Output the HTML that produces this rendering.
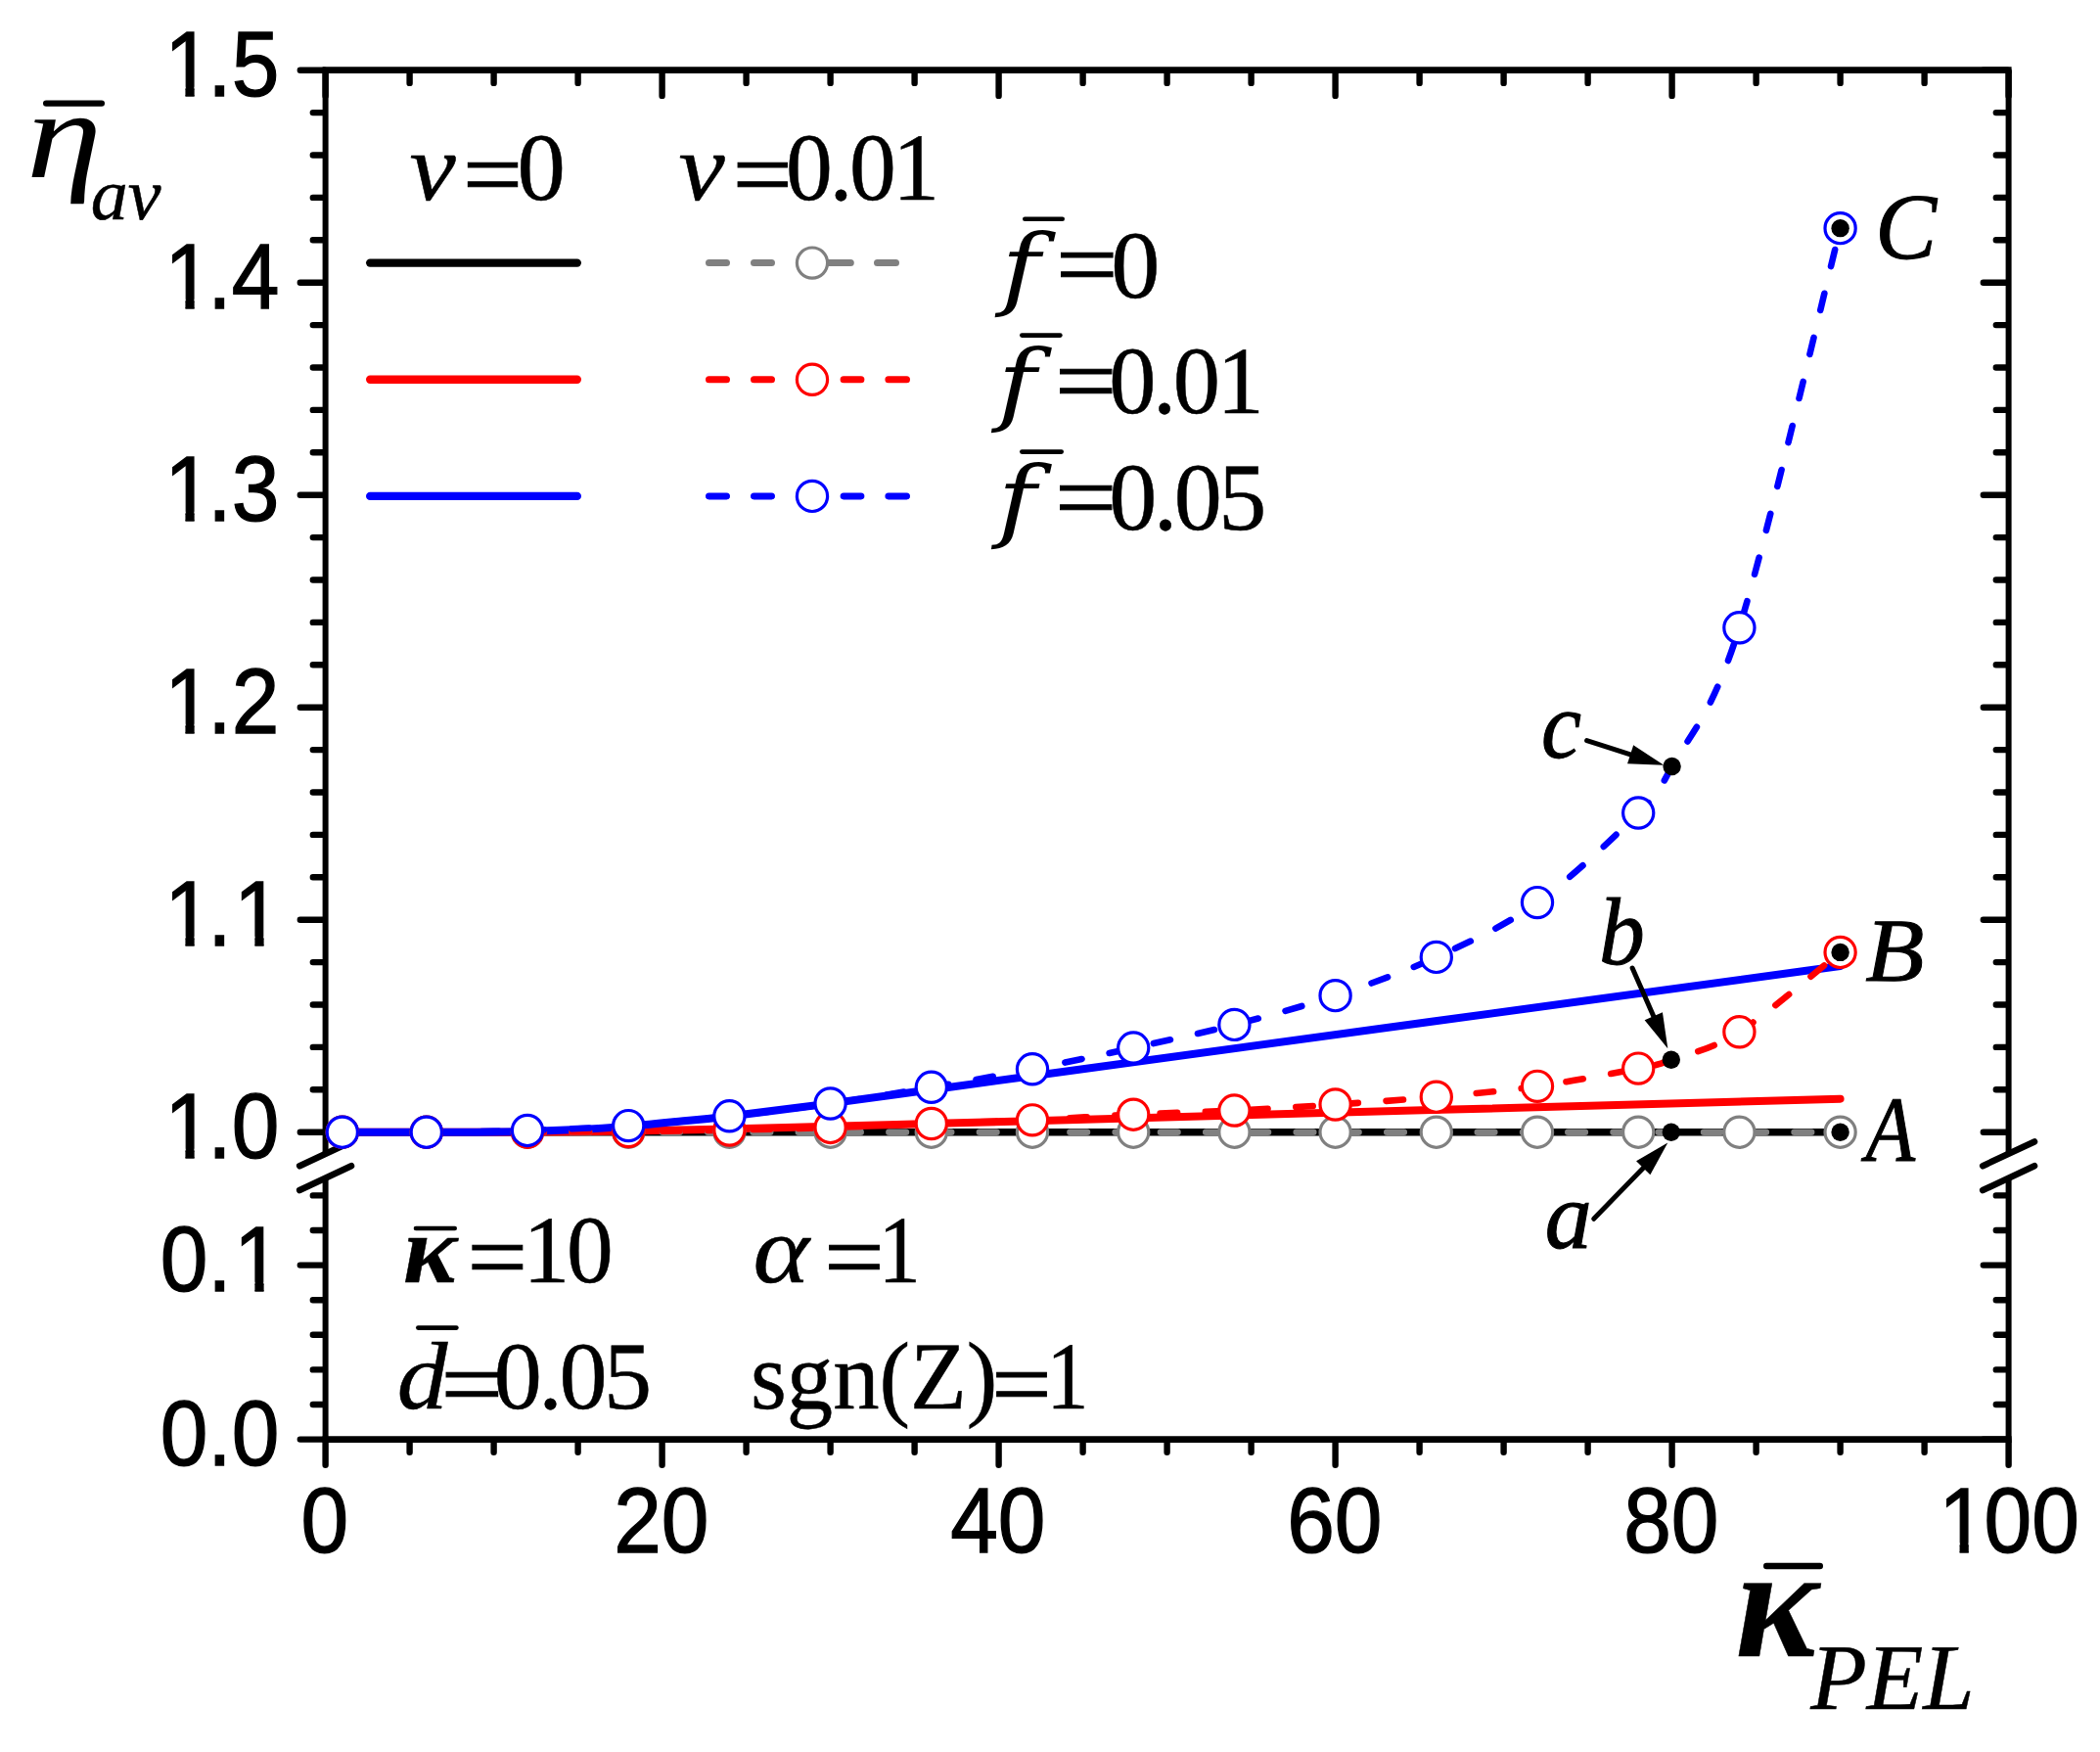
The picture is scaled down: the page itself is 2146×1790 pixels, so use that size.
<!DOCTYPE html>
<html lang="en"><head><meta charset="utf-8"><title>eta_av vs K_PEL</title>
<style>html,body{margin:0;padding:0;background:#fff}body{width:2146px;height:1790px;overflow:hidden}svg{display:block}</style>
</head><body>
<svg width="2146" height="1790" viewBox="0 0 2146 1790" text-rendering="geometricPrecision">
<rect width="2146" height="1790" fill="#fff"/>
<defs><clipPath id="cy1_5" clipPathUnits="userSpaceOnUse"><path clip-rule="evenodd" d="M-30 -100H162V30H-30Z M2.86 -9.27H27.86V4H2.86Z M37.81 -9.27H55.00V4H37.81Z"/></clipPath><clipPath id="cy1_4" clipPathUnits="userSpaceOnUse"><path clip-rule="evenodd" d="M-30 -100H162V30H-30Z M2.86 -9.27H27.86V4H2.86Z M37.81 -9.27H55.00V4H37.81Z"/></clipPath><clipPath id="cy1_3" clipPathUnits="userSpaceOnUse"><path clip-rule="evenodd" d="M-30 -100H162V30H-30Z M2.86 -9.27H27.86V4H2.86Z M37.81 -9.27H55.00V4H37.81Z"/></clipPath><clipPath id="cy1_2" clipPathUnits="userSpaceOnUse"><path clip-rule="evenodd" d="M-30 -100H162V30H-30Z M2.86 -9.27H27.86V4H2.86Z M37.81 -9.27H55.00V4H37.81Z"/></clipPath><clipPath id="cy1_1" clipPathUnits="userSpaceOnUse"><path clip-rule="evenodd" d="M-30 -100H162V30H-30Z M2.86 -9.27H27.86V4H2.86Z M37.81 -9.27H55.00V4H37.81Z M79.60 -9.27H104.59V4H79.60Z M114.54 -9.27H131.74V4H114.54Z"/></clipPath><clipPath id="cy1_0" clipPathUnits="userSpaceOnUse"><path clip-rule="evenodd" d="M-30 -100H162V30H-30Z M2.86 -9.27H27.86V4H2.86Z M37.81 -9.27H55.00V4H37.81Z"/></clipPath><clipPath id="cy0_1" clipPathUnits="userSpaceOnUse"><path clip-rule="evenodd" d="M-30 -100H162V30H-30Z M79.60 -9.27H104.59V4H79.60Z M114.54 -9.27H131.74V4H114.54Z"/></clipPath><clipPath id="cx100" clipPathUnits="userSpaceOnUse"><path clip-rule="evenodd" d="M-30 -100H188V30H-30Z M0.70 -9.27H25.69V4H0.70Z M35.65 -9.27H52.84V4H35.65Z"/></clipPath></defs>
<g stroke="#000" fill="none" stroke-linecap="round">
<g stroke-width="6.0" stroke-linecap="butt">
<path d="M332.60 71.70 V1178.80 M332.60 1203.60 V1470.60"/>
<path d="M2052.60 71.70 V1178.80 M2052.60 1203.60 V1470.60"/>
</g>
<g stroke-width="6.8" stroke-linecap="butt">
<path d="M329.60 71.70 H2055.60 M329.60 1470.60 H2055.60"/>
</g>
<g stroke-width="6.6">
<path d="M306.20 1191.20 L359.00 1166.40"/>
<path d="M306.20 1216.00 L359.00 1191.20"/>
<path d="M2026.20 1191.20 L2079.00 1166.40"/>
<path d="M2026.20 1216.00 L2079.00 1191.20"/>
</g>
<g stroke-width="6.4">
<path d="M332.60 1471.60 V1496.80 M332.60 72.70 V97.90 M418.60 1471.60 V1483.80 M418.60 72.70 V84.90 M504.60 1471.60 V1483.80 M504.60 72.70 V84.90 M590.60 1471.60 V1483.80 M590.60 72.70 V84.90 M676.60 1471.60 V1496.80 M676.60 72.70 V97.90 M762.60 1471.60 V1483.80 M762.60 72.70 V84.90 M848.60 1471.60 V1483.80 M848.60 72.70 V84.90 M934.60 1471.60 V1483.80 M934.60 72.70 V84.90 M1020.60 1471.60 V1496.80 M1020.60 72.70 V97.90 M1106.60 1471.60 V1483.80 M1106.60 72.70 V84.90 M1192.60 1471.60 V1483.80 M1192.60 72.70 V84.90 M1278.60 1471.60 V1483.80 M1278.60 72.70 V84.90 M1364.60 1471.60 V1496.80 M1364.60 72.70 V97.90 M1450.60 1471.60 V1483.80 M1450.60 72.70 V84.90 M1536.60 1471.60 V1483.80 M1536.60 72.70 V84.90 M1622.60 1471.60 V1483.80 M1622.60 72.70 V84.90 M1708.60 1471.60 V1496.80 M1708.60 72.70 V97.90 M1794.60 1471.60 V1483.80 M1794.60 72.70 V84.90 M1880.60 1471.60 V1483.80 M1880.60 72.70 V84.90 M1966.60 1471.60 V1483.80 M1966.60 72.70 V84.90 M2052.60 1471.60 V1496.80 M2052.60 72.70 V97.90 M331.60 1156.70 H306.80 M2051.60 1156.70 H2026.80 M331.60 1113.30 H319.80 M2051.60 1113.30 H2039.80 M331.60 1069.90 H319.80 M2051.60 1069.90 H2039.80 M331.60 1026.50 H319.80 M2051.60 1026.50 H2039.80 M331.60 983.10 H319.80 M2051.60 983.10 H2039.80 M331.60 939.70 H306.80 M2051.60 939.70 H2026.80 M331.60 896.30 H319.80 M2051.60 896.30 H2039.80 M331.60 852.90 H319.80 M2051.60 852.90 H2039.80 M331.60 809.50 H319.80 M2051.60 809.50 H2039.80 M331.60 766.10 H319.80 M2051.60 766.10 H2039.80 M331.60 722.70 H306.80 M2051.60 722.70 H2026.80 M331.60 679.30 H319.80 M2051.60 679.30 H2039.80 M331.60 635.90 H319.80 M2051.60 635.90 H2039.80 M331.60 592.50 H319.80 M2051.60 592.50 H2039.80 M331.60 549.10 H319.80 M2051.60 549.10 H2039.80 M331.60 505.70 H306.80 M2051.60 505.70 H2026.80 M331.60 462.30 H319.80 M2051.60 462.30 H2039.80 M331.60 418.90 H319.80 M2051.60 418.90 H2039.80 M331.60 375.50 H319.80 M2051.60 375.50 H2039.80 M331.60 332.10 H319.80 M2051.60 332.10 H2039.80 M331.60 288.70 H306.80 M2051.60 288.70 H2026.80 M331.60 245.30 H319.80 M2051.60 245.30 H2039.80 M331.60 201.90 H319.80 M2051.60 201.90 H2039.80 M331.60 158.50 H319.80 M2051.60 158.50 H2039.80 M331.60 115.10 H319.80 M2051.60 115.10 H2039.80 M331.60 71.70 H306.80 M2051.60 71.70 H2026.80 M331.60 1470.60 H306.80 M2051.60 1470.60 H2026.80 M331.60 1435.00 H319.80 M2051.60 1435.00 H2039.80 M331.60 1399.40 H319.80 M2051.60 1399.40 H2039.80 M331.60 1363.80 H319.80 M2051.60 1363.80 H2039.80 M331.60 1328.20 H319.80 M2051.60 1328.20 H2039.80 M331.60 1292.60 H306.80 M2051.60 1292.60 H2026.80 M331.60 1257.00 H319.80 M2051.60 1257.00 H2039.80 M331.60 1221.40 H319.80 M2051.60 1221.40 H2039.80"/>
</g>
</g>
<g fill="none" stroke-linecap="round" stroke-linejoin="round">
<path d="M349.80 1156.70 L1880.60 1156.70" stroke="#000" stroke-width="7.4"/>
<path d="M349.80 1156.70 C372.73 1156.70 455.87 1156.72 487.40 1156.70 C518.93 1156.68 521.80 1156.66 539.00 1156.57 C556.20 1156.48 573.40 1156.36 590.60 1156.18 C607.80 1156.00 625.00 1155.76 642.20 1155.48 C659.40 1155.21 676.60 1154.87 693.80 1154.53 C711.00 1154.19 719.60 1154.06 745.40 1153.44 C771.20 1152.83 814.20 1151.75 848.60 1150.84 C883.00 1149.94 917.40 1148.96 951.80 1148.02 C986.20 1147.08 900.20 1149.41 1055.00 1145.20 C1209.80 1140.99 1743.00 1126.50 1880.60 1122.76" stroke="#f00" stroke-width="8.0"/>
<path d="M349.80 1156.70 C372.73 1156.70 455.87 1156.81 487.40 1156.70 C518.93 1156.59 521.80 1156.48 539.00 1156.05 C556.20 1155.62 573.40 1155.00 590.60 1154.10 C607.80 1153.19 625.00 1152.00 642.20 1150.62 C659.40 1149.25 676.60 1147.55 693.80 1145.85 C711.00 1144.15 719.60 1143.50 745.40 1140.42 C771.20 1137.35 814.20 1131.93 848.60 1127.40 C883.00 1122.88 917.40 1118.00 951.80 1113.30 C986.20 1108.60 900.20 1120.24 1055.00 1099.20 C1209.80 1078.15 1743.00 1005.70 1880.60 987.01" stroke="#00f" stroke-width="8.0"/>
<path d="M539.00 1156.70 L1880.60 1156.70" stroke="#808080" stroke-width="6.6" stroke-dasharray="17.5 28.76" stroke-dashoffset="0.66"/>
<path d="M539.00 1156.70 C556.20 1156.59 607.80 1156.41 642.20 1156.05 C676.60 1155.69 711.00 1155.22 745.40 1154.53 C779.80 1153.84 814.20 1153.01 848.60 1151.93 C883.00 1150.84 917.40 1149.29 951.80 1148.02 C986.20 1146.75 1020.60 1145.89 1055.00 1144.33 C1089.40 1142.78 1123.80 1140.32 1158.20 1138.69 C1192.60 1137.06 1227.00 1136.27 1261.40 1134.57 C1295.80 1132.87 1330.20 1130.80 1364.60 1128.49 C1399.00 1126.18 1433.40 1123.79 1467.80 1120.68 C1502.20 1117.57 1536.60 1114.67 1571.00 1109.83 C1605.40 1104.98 1651.27 1096.12 1674.20 1091.60 C1697.13 1087.08 1691.40 1088.92 1708.60 1082.70 C1725.80 1076.48 1748.73 1072.58 1777.40 1054.28 C1806.07 1035.98 1863.40 986.46 1880.60 972.90" stroke="#f00" stroke-width="6.6" stroke-dasharray="17.5 28.76" stroke-dashoffset="0.66"/>
<path d="M349.80 1156.70 C364.13 1156.70 404.27 1156.99 435.80 1156.70 C467.33 1156.41 504.60 1156.06 539.00 1154.96 C573.40 1153.86 607.80 1152.55 642.20 1150.10 C676.60 1147.66 711.00 1144.06 745.40 1140.29 C779.80 1136.53 814.20 1132.41 848.60 1127.49 C883.00 1122.58 917.40 1116.67 951.80 1110.80 C986.20 1104.94 1020.60 1099.00 1055.00 1092.29 C1089.40 1085.59 1123.80 1078.12 1158.20 1070.55 C1192.60 1062.98 1227.00 1055.80 1261.40 1046.90 C1295.80 1038.00 1330.20 1028.67 1364.60 1017.17 C1399.00 1005.67 1433.40 993.73 1467.80 977.89 C1502.20 962.05 1536.60 946.68 1571.00 922.12 C1605.40 897.57 1651.27 853.73 1674.20 830.55 C1697.13 807.37 1691.40 814.56 1708.60 783.03 C1725.80 751.49 1748.73 732.97 1777.40 641.32 C1806.07 549.68 1863.40 301.18 1880.60 233.15" stroke="#00f" stroke-width="6.6" stroke-dasharray="17.5 28.76" stroke-dashoffset="-3.5"/>
</g>
<circle cx="349.80" cy="1156.70" r="15.6" fill="#fff" stroke="#808080" stroke-width="3.2"/>
<circle cx="435.80" cy="1156.70" r="15.6" fill="#fff" stroke="#808080" stroke-width="3.2"/>
<circle cx="539.00" cy="1156.70" r="15.6" fill="#fff" stroke="#808080" stroke-width="3.2"/>
<circle cx="642.20" cy="1156.70" r="15.6" fill="#fff" stroke="#808080" stroke-width="3.2"/>
<circle cx="745.40" cy="1156.70" r="15.6" fill="#fff" stroke="#808080" stroke-width="3.2"/>
<circle cx="848.60" cy="1156.70" r="15.6" fill="#fff" stroke="#808080" stroke-width="3.2"/>
<circle cx="951.80" cy="1156.70" r="15.6" fill="#fff" stroke="#808080" stroke-width="3.2"/>
<circle cx="1055.00" cy="1156.70" r="15.6" fill="#fff" stroke="#808080" stroke-width="3.2"/>
<circle cx="1158.20" cy="1156.70" r="15.6" fill="#fff" stroke="#808080" stroke-width="3.2"/>
<circle cx="1261.40" cy="1156.70" r="15.6" fill="#fff" stroke="#808080" stroke-width="3.2"/>
<circle cx="1364.60" cy="1156.70" r="15.6" fill="#fff" stroke="#808080" stroke-width="3.2"/>
<circle cx="1467.80" cy="1156.70" r="15.6" fill="#fff" stroke="#808080" stroke-width="3.2"/>
<circle cx="1571.00" cy="1156.70" r="15.6" fill="#fff" stroke="#808080" stroke-width="3.2"/>
<circle cx="1674.20" cy="1156.70" r="15.6" fill="#fff" stroke="#808080" stroke-width="3.2"/>
<circle cx="1777.40" cy="1156.70" r="15.6" fill="#fff" stroke="#808080" stroke-width="3.2"/>
<circle cx="1880.60" cy="1156.70" r="15.6" fill="#fff" stroke="#808080" stroke-width="3.2"/>
<circle cx="349.80" cy="1156.70" r="15.6" fill="#fff" stroke="#f00" stroke-width="3.2"/>
<circle cx="435.80" cy="1156.70" r="15.6" fill="#fff" stroke="#f00" stroke-width="3.2"/>
<circle cx="539.00" cy="1156.70" r="15.6" fill="#fff" stroke="#f00" stroke-width="3.2"/>
<circle cx="642.20" cy="1156.05" r="15.6" fill="#fff" stroke="#f00" stroke-width="3.2"/>
<circle cx="745.40" cy="1154.53" r="15.6" fill="#fff" stroke="#f00" stroke-width="3.2"/>
<circle cx="848.60" cy="1151.93" r="15.6" fill="#fff" stroke="#f00" stroke-width="3.2"/>
<circle cx="951.80" cy="1148.02" r="15.6" fill="#fff" stroke="#f00" stroke-width="3.2"/>
<circle cx="1055.00" cy="1144.33" r="15.6" fill="#fff" stroke="#f00" stroke-width="3.2"/>
<circle cx="1158.20" cy="1138.69" r="15.6" fill="#fff" stroke="#f00" stroke-width="3.2"/>
<circle cx="1261.40" cy="1134.57" r="15.6" fill="#fff" stroke="#f00" stroke-width="3.2"/>
<circle cx="1364.60" cy="1128.49" r="15.6" fill="#fff" stroke="#f00" stroke-width="3.2"/>
<circle cx="1467.80" cy="1120.68" r="15.6" fill="#fff" stroke="#f00" stroke-width="3.2"/>
<circle cx="1571.00" cy="1109.83" r="15.6" fill="#fff" stroke="#f00" stroke-width="3.2"/>
<circle cx="1674.20" cy="1091.60" r="15.6" fill="#fff" stroke="#f00" stroke-width="3.2"/>
<circle cx="1777.40" cy="1054.28" r="15.6" fill="#fff" stroke="#f00" stroke-width="3.2"/>
<circle cx="1880.60" cy="972.90" r="15.6" fill="#fff" stroke="#f00" stroke-width="3.2"/>
<circle cx="349.80" cy="1156.70" r="15.6" fill="#fff" stroke="#00f" stroke-width="3.2"/>
<circle cx="435.80" cy="1156.70" r="15.6" fill="#fff" stroke="#00f" stroke-width="3.2"/>
<circle cx="539.00" cy="1154.96" r="15.6" fill="#fff" stroke="#00f" stroke-width="3.2"/>
<circle cx="642.20" cy="1150.10" r="15.6" fill="#fff" stroke="#00f" stroke-width="3.2"/>
<circle cx="745.40" cy="1140.29" r="15.6" fill="#fff" stroke="#00f" stroke-width="3.2"/>
<circle cx="848.60" cy="1127.49" r="15.6" fill="#fff" stroke="#00f" stroke-width="3.2"/>
<circle cx="951.80" cy="1110.80" r="15.6" fill="#fff" stroke="#00f" stroke-width="3.2"/>
<circle cx="1055.00" cy="1092.29" r="15.6" fill="#fff" stroke="#00f" stroke-width="3.2"/>
<circle cx="1158.20" cy="1070.55" r="15.6" fill="#fff" stroke="#00f" stroke-width="3.2"/>
<circle cx="1261.40" cy="1046.90" r="15.6" fill="#fff" stroke="#00f" stroke-width="3.2"/>
<circle cx="1364.60" cy="1017.17" r="15.6" fill="#fff" stroke="#00f" stroke-width="3.2"/>
<circle cx="1467.80" cy="977.89" r="15.6" fill="#fff" stroke="#00f" stroke-width="3.2"/>
<circle cx="1571.00" cy="922.12" r="15.6" fill="#fff" stroke="#00f" stroke-width="3.2"/>
<circle cx="1674.20" cy="830.55" r="15.6" fill="#fff" stroke="#00f" stroke-width="3.2"/>
<circle cx="1777.40" cy="641.32" r="15.6" fill="#fff" stroke="#00f" stroke-width="3.2"/>
<circle cx="1880.60" cy="233.15" r="15.6" fill="#fff" stroke="#00f" stroke-width="3.2"/>
<circle cx="1880.60" cy="1156.70" r="9.2" fill="#000"/>
<circle cx="1880.60" cy="972.90" r="9.2" fill="#000"/>
<circle cx="1880.60" cy="233.15" r="9.2" fill="#000"/>
<circle cx="1707.80" cy="1156.70" r="9.2" fill="#000"/>
<circle cx="1707.80" cy="1082.70" r="9.2" fill="#000"/>
<circle cx="1708.60" cy="783.03" r="9.2" fill="#000"/>
<g fill="none" stroke-linecap="round">
<path d="M378.2 268.6 H589.8" stroke="#000" stroke-width="8.4"/>
<path d="M378.2 387.8 H589.8" stroke="#f00" stroke-width="8.4"/>
<path d="M378.2 506.9 H589.8" stroke="#00f" stroke-width="8.4"/>
<path d="M724.5 268.6 H742.5 M770.5 268.6 H788.5 M843.5 268.6 H869.3 M896.5 268.6 H915.5" stroke="#808080" stroke-width="7"/>
<path d="M724.5 387.8 H742.5 M770.5 387.8 H788.5 M862.1 387.8 H879.9 M907.9 387.8 H926.5" stroke="#f00" stroke-width="7"/>
<path d="M724.5 506.9 H742.5 M770.5 506.9 H788.5 M862.1 506.9 H879.9 M907.9 506.9 H926.5" stroke="#00f" stroke-width="7"/>
</g>
<circle cx="830.00" cy="268.60" r="15.6" fill="#fff" stroke="#808080" stroke-width="3.2"/>
<circle cx="830.00" cy="387.80" r="15.6" fill="#fff" stroke="#f00" stroke-width="3.2"/>
<circle cx="830.00" cy="506.90" r="15.6" fill="#fff" stroke="#00f" stroke-width="3.2"/>
<path d="M1668.10 989.00 L1691.40 1041.91" stroke="#000" stroke-width="5.0" stroke-linecap="round" fill="none"/>
<path d="M1704.30 1071.20 L1680.64 1042.28 L1698.94 1034.22 Z" fill="#000"/>
<path d="M1628.70 1245.30 L1682.00 1190.45" stroke="#000" stroke-width="5.0" stroke-linecap="round" fill="none"/>
<path d="M1704.30 1167.50 L1686.38 1200.29 L1672.04 1186.35 Z" fill="#000"/>
<path d="M1621.60 756.60 L1669.92 772.05" stroke="#000" stroke-width="5.0" stroke-linecap="round" fill="none"/>
<path d="M1700.40 781.80 L1663.06 780.36 L1669.16 761.31 Z" fill="#000"/>
<text id="y1_5" transform="translate(163.66 98.00) scale(0.9250 1)" font-family="'Liberation Sans', Arial, sans-serif" font-size="94.6" stroke="#000" stroke-width="1.3" dx="4.86 -4.86 0.00" clip-path="url(#cy1_5)">1.5</text>
<text id="y1_4" transform="translate(163.66 315.00) scale(0.9250 1)" font-family="'Liberation Sans', Arial, sans-serif" font-size="94.6" stroke="#000" stroke-width="1.3" dx="4.86 -4.86 0.00" clip-path="url(#cy1_4)">1.4</text>
<text id="y1_3" transform="translate(163.66 532.00) scale(0.9250 1)" font-family="'Liberation Sans', Arial, sans-serif" font-size="94.6" stroke="#000" stroke-width="1.3" dx="4.86 -4.86 0.00" clip-path="url(#cy1_3)">1.3</text>
<text id="y1_2" transform="translate(163.66 749.00) scale(0.9250 1)" font-family="'Liberation Sans', Arial, sans-serif" font-size="94.6" stroke="#000" stroke-width="1.3" dx="4.86 -4.86 0.00" clip-path="url(#cy1_2)">1.2</text>
<text id="y1_1" transform="translate(163.66 966.00) scale(0.9250 1)" font-family="'Liberation Sans', Arial, sans-serif" font-size="94.6" stroke="#000" stroke-width="1.3" dx="4.86 -4.86 2.70" clip-path="url(#cy1_1)">1.1</text>
<text id="y1_0" transform="translate(163.66 1183.00) scale(0.9250 1)" font-family="'Liberation Sans', Arial, sans-serif" font-size="94.6" stroke="#000" stroke-width="1.3" dx="4.86 -4.86 0.00" clip-path="url(#cy1_0)">1.0</text>
<text id="y0_1" transform="translate(163.66 1318.90) scale(0.9250 1)" font-family="'Liberation Sans', Arial, sans-serif" font-size="94.6" stroke="#000" stroke-width="1.3" dx="0.00 0.00 2.70" clip-path="url(#cy0_1)">0.1</text>
<text id="y0_0" transform="translate(163.66 1496.90) scale(0.9250 1)" font-family="'Liberation Sans', Arial, sans-serif" font-size="94.6" stroke="#000" stroke-width="1.3">0.0</text>
<text id="x0" transform="translate(307.47 1585.60) scale(0.9250 1)" font-family="'Liberation Sans', Arial, sans-serif" font-size="94.6" stroke="#000" stroke-width="1.3">0</text>
<text id="x20" transform="translate(627.13 1585.60) scale(0.9250 1)" font-family="'Liberation Sans', Arial, sans-serif" font-size="94.6" stroke="#000" stroke-width="1.3">20</text>
<text id="x40" transform="translate(971.13 1585.60) scale(0.9250 1)" font-family="'Liberation Sans', Arial, sans-serif" font-size="94.6" stroke="#000" stroke-width="1.3">40</text>
<text id="x60" transform="translate(1315.13 1585.60) scale(0.9250 1)" font-family="'Liberation Sans', Arial, sans-serif" font-size="94.6" stroke="#000" stroke-width="1.3">60</text>
<text id="x80" transform="translate(1659.13 1585.60) scale(0.9250 1)" font-family="'Liberation Sans', Arial, sans-serif" font-size="94.6" stroke="#000" stroke-width="1.3">80</text>
<text id="x100" transform="translate(1978.80 1585.60) scale(0.9250 1)" font-family="'Liberation Sans', Arial, sans-serif" font-size="94.6" stroke="#000" stroke-width="1.3" dx="2.70 -2.70 0.00" clip-path="url(#cx100)">100</text>
<text id="eta" transform="translate(26.96 181.00) scale(1.2140 1)" font-family="'Liberation Serif', 'Times New Roman', serif" font-size="128.0" font-style="italic">η</text>
<path d="M47.2 105.6 H103.8" stroke="#000" stroke-width="6.4" stroke-linecap="round" fill="none"/>
<text id="av" transform="translate(92.74 224.40) scale(1.0123 1)" font-family="'Liberation Serif', 'Times New Roman', serif" font-size="75.0" font-style="italic" stroke="#000" stroke-width="0.50">av</text>
<text id="kap" transform="translate(1773.30 1692.00) scale(0.9881 1)" font-family="'Liberation Serif', 'Times New Roman', serif" font-size="162.0" font-style="italic" font-weight="bold" stroke="#000" stroke-width="0.50">κ</text>
<path d="M1805.2 1600.0 H1859.8" stroke="#000" stroke-width="6.4" stroke-linecap="round" fill="none"/>
<text id="pel" transform="translate(1850.21 1746.30) scale(0.9812 1)" font-family="'Liberation Serif', 'Times New Roman', serif" font-size="96.0" font-style="italic" stroke="#000" stroke-width="0.50">PEL</text>
<text id="nu1" transform="translate(418.55 204.00) scale(1.0840 1)" font-family="'Liberation Serif', 'Times New Roman', serif" font-size="98.0" font-style="italic" stroke="#000" stroke-width="0.50">ν</text>
<text id="eq1" transform="translate(472.92 211.00) scale(1.1030 1)" font-family="'Liberation Serif', 'Times New Roman', serif" font-size="98.0" stroke="#000" stroke-width="1.00">=</text>
<text id="z1" transform="translate(528.54 204.00) scale(1.0064 1)" font-family="'Liberation Serif', 'Times New Roman', serif" font-size="98.0" stroke="#000" stroke-width="0.50">0</text>
<text id="nu2" transform="translate(693.55 204.00) scale(1.0840 1)" font-family="'Liberation Serif', 'Times New Roman', serif" font-size="98.0" font-style="italic" stroke="#000" stroke-width="0.50">ν</text>
<text id="eq2" transform="translate(748.82 211.00) scale(1.1030 1)" font-family="'Liberation Serif', 'Times New Roman', serif" font-size="98.0" stroke="#000" stroke-width="1.00">=</text>
<text id="z2" transform="translate(803.06 204.00) scale(0.9757 1)" font-family="'Liberation Serif', 'Times New Roman', serif" font-size="98.0" letter-spacing="-3.50" stroke="#000" stroke-width="0.50">0.01</text>
<text id="f0" transform="translate(1023.31 304.50) scale(1.1684 1)" font-family="'DejaVu Serif', 'Liberation Serif', serif" font-size="92.0" font-style="italic">f</text>
<path d="M1047.3 223.8 H1085.7" stroke="#000" stroke-width="4.6" stroke-linecap="round" fill="none"/>
<text id="feq0" transform="translate(1078.99 303.00) scale(1.1491 1)" font-family="'Liberation Serif', 'Times New Roman', serif" font-size="98.0" stroke="#000" stroke-width="1.00">=</text>
<text id="fv0" transform="translate(1135.18 303.50) scale(1.0232 1)" font-family="'Liberation Serif', 'Times New Roman', serif" font-size="98.0" stroke="#000" stroke-width="0.50">0</text>
<text id="f1" transform="translate(1019.58 423.30) scale(1.1627 1)" font-family="'DejaVu Serif', 'Liberation Serif', serif" font-size="92.0" font-style="italic">f</text>
<path d="M1044.3 342.6 H1083.4" stroke="#000" stroke-width="4.6" stroke-linecap="round" fill="none"/>
<text id="feq1" transform="translate(1077.90 421.80) scale(1.1469 1)" font-family="'Liberation Serif', 'Times New Roman', serif" font-size="98.0" stroke="#000" stroke-width="1.00">=</text>
<text id="fv1" transform="translate(1133.33 422.30) scale(0.9843 1)" font-family="'Liberation Serif', 'Times New Roman', serif" font-size="98.0" letter-spacing="-3.50" stroke="#000" stroke-width="0.50">0.01</text>
<text id="f2" transform="translate(1019.58 542.30) scale(1.1627 1)" font-family="'DejaVu Serif', 'Liberation Serif', serif" font-size="92.0" font-style="italic">f</text>
<path d="M1044.3 461.6 H1084.7" stroke="#000" stroke-width="4.6" stroke-linecap="round" fill="none"/>
<text id="feq2" transform="translate(1077.90 540.80) scale(1.1469 1)" font-family="'Liberation Serif', 'Times New Roman', serif" font-size="98.0" stroke="#000" stroke-width="1.00">=</text>
<text id="fv2" transform="translate(1133.26 541.30) scale(1.0010 1)" font-family="'Liberation Serif', 'Times New Roman', serif" font-size="98.0" letter-spacing="-3.50" stroke="#000" stroke-width="0.50">0.05</text>
<text id="k2" transform="translate(412.08 1309.50) scale(1.0546 1)" font-family="'Liberation Serif', 'Times New Roman', serif" font-size="98.0" font-style="italic" font-weight="bold" stroke="#000" stroke-width="0.50">κ</text>
<path d="M425.0 1255.0 H464.7" stroke="#000" stroke-width="4.6" stroke-linecap="round" fill="none"/>
<text id="k2eq" transform="translate(477.56 1317.00) scale(1.1140 1)" font-family="'Liberation Serif', 'Times New Roman', serif" font-size="98.0" stroke="#000" stroke-width="1.00">=</text>
<text id="k2v" transform="translate(534.61 1309.50) scale(0.9738 1)" font-family="'Liberation Serif', 'Times New Roman', serif" font-size="98.0" letter-spacing="-3.50" stroke="#000" stroke-width="0.50">10</text>
<text id="al" transform="translate(769.43 1309.50) scale(1.1187 1)" font-family="'Liberation Serif', 'Times New Roman', serif" font-size="98.0" font-style="italic" stroke="#000" stroke-width="0.50">α</text>
<text id="aleq" transform="translate(842.17 1317.00) scale(1.1118 1)" font-family="'Liberation Serif', 'Times New Roman', serif" font-size="98.0" stroke="#000" stroke-width="1.00">=</text>
<text id="alv" transform="translate(897.39 1309.50) scale(0.8840 1)" font-family="'Liberation Serif', 'Times New Roman', serif" font-size="98.0" stroke="#000" stroke-width="0.50">1</text>
<text id="d" transform="translate(405.87 1438.70) scale(1.0546 1)" font-family="'Liberation Serif', 'Times New Roman', serif" font-size="98.0" font-style="italic" stroke="#000" stroke-width="0.50">d</text>
<path d="M427.3 1356.6 H466.4" stroke="#000" stroke-width="4.6" stroke-linecap="round" fill="none"/>
<text id="deq" transform="translate(450.38 1446.70) scale(1.1513 1)" font-family="'Liberation Serif', 'Times New Roman', serif" font-size="98.0" stroke="#000" stroke-width="1.00">=</text>
<text id="dv" transform="translate(504.76 1438.70) scale(1.0023 1)" font-family="'Liberation Serif', 'Times New Roman', serif" font-size="98.0" letter-spacing="-3.50" stroke="#000" stroke-width="0.50">0.05</text>
<text id="sgn" transform="translate(767.02 1438.70) scale(0.9658 1)" font-family="'Liberation Serif', 'Times New Roman', serif" font-size="98.0" stroke="#000" stroke-width="0.50">sgn(Z)</text>
<text id="sgneq" transform="translate(1013.37 1446.70) scale(1.1118 1)" font-family="'Liberation Serif', 'Times New Roman', serif" font-size="98.0" stroke="#000" stroke-width="1.00">=</text>
<text id="sgnv" transform="translate(1069.19 1438.70) scale(0.8840 1)" font-family="'Liberation Serif', 'Times New Roman', serif" font-size="98.0" stroke="#000" stroke-width="0.50">1</text>
<text id="la" transform="translate(1578.74 1275.00) scale(0.9812 1)" font-family="'Liberation Serif', 'Times New Roman', serif" font-size="98.0" font-style="italic" stroke="#000" stroke-width="1.00">a</text>
<text id="lb" transform="translate(1634.03 985.30) scale(0.9553 1)" font-family="'Liberation Serif', 'Times New Roman', serif" font-size="98.0" font-style="italic" stroke="#000" stroke-width="1.00">b</text>
<text id="lc" transform="translate(1574.96 773.80) scale(0.9435 1)" font-family="'Liberation Serif', 'Times New Roman', serif" font-size="98.0" font-style="italic" stroke="#000" stroke-width="1.00">c</text>
<text id="lA" transform="translate(1906.52 1185.80) scale(0.8702 1)" font-family="'Liberation Serif', 'Times New Roman', serif" font-size="95.0" font-style="italic" stroke="#000" stroke-width="1.00">A</text>
<text id="lB" transform="translate(1906.19 1002.00) scale(1.0690 1)" font-family="'Liberation Serif', 'Times New Roman', serif" font-size="92.0" font-style="italic" stroke="#000" stroke-width="1.00">B</text>
<text id="lC" transform="translate(1916.36 263.60) scale(0.9802 1)" font-family="'Liberation Serif', 'Times New Roman', serif" font-size="96.0" font-style="italic" stroke="#000" stroke-width="1.00">C</text>
</svg>
</body></html>
